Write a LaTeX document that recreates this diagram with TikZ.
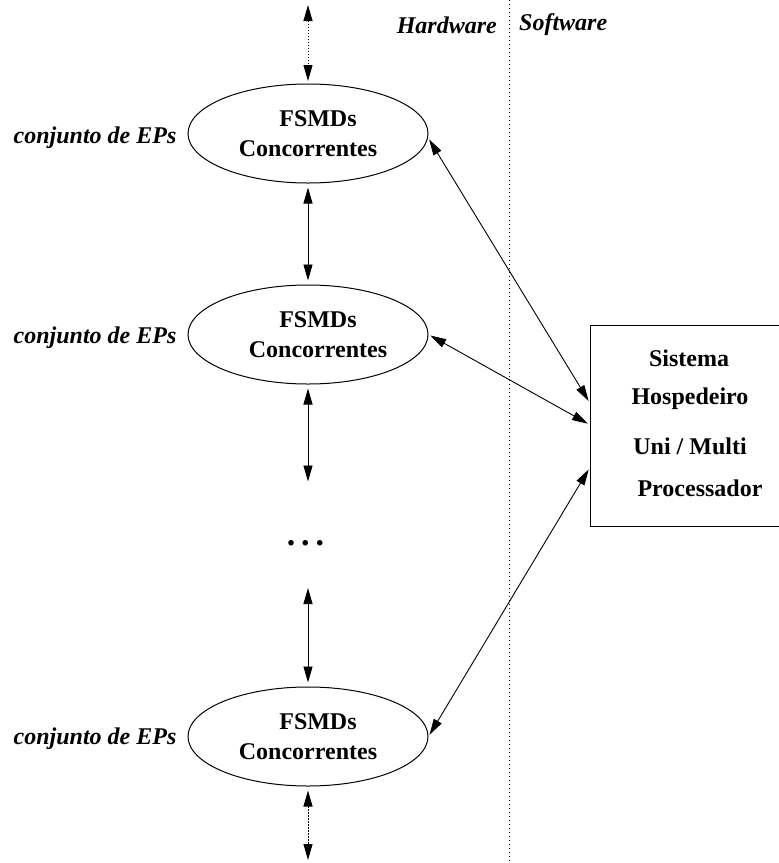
\documentclass[tikz,border=0pt]{standalone}
\usepackage{fontspec}
\setmainfont{Liberation Serif}
\usetikzlibrary{arrows.meta,shapes.geometric,calc}
\begin{document}
\begin{tikzpicture}[x=1pt,y=-1pt,
  every node/.style={inner sep=0pt, font=\fontsize{24}{30}\selectfont\bfseries},
  fsmd/.style={draw, ellipse, line width=1pt, minimum width=240pt,
    minimum height=99pt, align=center},
  side/.style={font=\fontsize{24}{30}\selectfont\bfseries\itshape},
  tip/.tip={Triangle[length=16pt,width=9pt]},
  link/.style={line width=0.9pt, tip-tip},
  dotlink/.style={link, dash pattern=on 1.5pt off 1.5pt},
  divider/.style={line width=0.9pt, dash pattern=on 1pt off 3pt}]
\useasboundingbox (0,0) rectangle (779,863);

% hardware / software split
\coordinate (dtop) at (509,0);
\coordinate (dbot) at (509,863);
\draw[divider] (dtop) -- (dbot);
\node[side, anchor=east] (hw) at (497,25) {Hardware};
\node[side, anchor=west] (sw) at (519,25) {Software};

% chain of processing-element sets
\node[fsmd] (e1) at (308,133.5) {\hspace*{20pt}FSMDs\\Concorrentes};
\node[fsmd] (e2) at (308,334.5) {\hspace*{20pt}FSMDs\\\hspace*{20pt}Concorrentes};
\node[fsmd] (e3) at (308,736.5) {\hspace*{20pt}FSMDs\\Concorrentes};

\node[side] (l1) at (95,137.5) {conjunto de EPs};
\node[side] (l2) at (95,338) {conjunto de EPs};
\node[side] (l3) at (95,738.5) {conjunto de EPs};

\node[font=\fontsize{34}{34}\selectfont\bfseries] (dots) at (305.5,543)
  {.\hspace{6pt}.\hspace{6pt}.};

\coordinate (top) at (308,5);
\coordinate (bot) at (308,860);
\coordinate (m1) at (308,481.5);
\coordinate (m2) at (308,588);

\draw[dotlink, shorten >=2.5pt] (top) -- (e1.north);
\draw[link, shorten <=4pt, shorten >=4pt] (e1.south) -- (e2.north);
\draw[link, shorten <=4pt] (e2.south) -- (m1);
\draw[link, shorten >=4pt] (m2) -- (e3.north);
\draw[dotlink, shorten <=4pt] (e3.south) -- (bot);

% host system
\node[draw, line width=1pt, minimum width=191pt, minimum height=201pt,
  anchor=north west] (host) at (589.7,324.7) {};
\node (h1) at (689,358) {Sistema};
\node (h2) at (690,399) {Hospedeiro};
\node (h3) at (690,446) {Uni / Multi};
\node (h4) at (700,488) {Processador};

\coordinate (p1) at ([yshift=23pt]host.west);
\coordinate (p2) at ([yshift=1pt]host.west);
\coordinate (p3) at ([yshift=-42pt]host.west);

\draw[link, shorten <=2pt, shorten >=2pt] (e1.-2) -- (p1);
\draw[link, shorten <=2pt, shorten >=2pt] (e2.east) -- (p2);
\draw[link, shorten <=2pt, shorten >=2pt] (e3.east) -- (p3);
\end{tikzpicture}
\end{document}
